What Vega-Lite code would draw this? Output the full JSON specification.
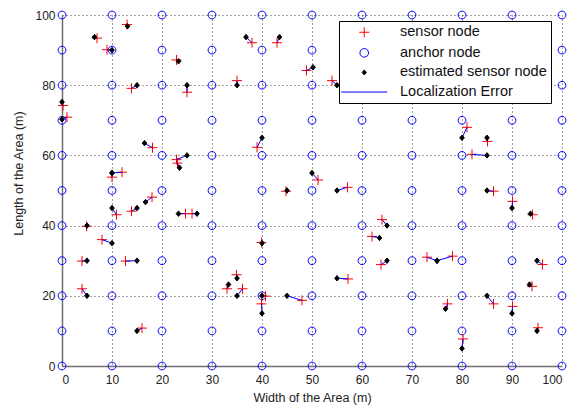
{
  "$schema": "https://vega.github.io/schema/vega-lite/v6.json",
  "width": 500,
  "height": 351,
  "autosize": {"type": "none"},
  "padding": {"left": 62, "top": 15, "right": 12, "bottom": 40},
  "background": "white",
  "config": {
    "view": {"stroke": null},
    "font": "Liberation Sans",
    "axis": {
      "grid": true,
      "gridColor": "#000000",
      "gridDash": [1, 3],
      "gridOpacity": 0.75,
      "gridWidth": 1,
      "domainColor": "#707070",
      "domainWidth": 1.5,
      "ticks": false,
      "labelFont": "Liberation Sans",
      "labelFontSize": 12,
      "labelColor": "#222222",
      "titleFont": "Liberation Sans",
      "titleFontSize": 12.5,
      "titleFontWeight": "normal",
      "titleColor": "#222222"
    },
    "legend": {
      "orient": "none",
      "legendX": 277,
      "legendY": 6,
      "symbolSize": 100,
      "symbolStrokeWidth": 1,
      "symbolOffset": 14,
      "labelFont": "Liberation Sans",
      "labelFontSize": 14.5,
      "labelColor": "#111111",
      "labelOffset": 28.5,
      "padding": 4,
      "rowPadding": 4.6,
      "strokeColor": "#000000",
      "fillColor": "#ffffff",
      "title": null
    }
  },
  "datasets": {
    "anchors": [
      {"x":0,"y":0},{"x":0,"y":10},{"x":0,"y":20},{"x":0,"y":30},{"x":0,"y":40},{"x":0,"y":50},{"x":0,"y":60},{"x":0,"y":70},{"x":0,"y":80},{"x":0,"y":90},{"x":0,"y":100},
      {"x":10,"y":0},{"x":10,"y":10},{"x":10,"y":20},{"x":10,"y":30},{"x":10,"y":40},{"x":10,"y":50},{"x":10,"y":60},{"x":10,"y":70},{"x":10,"y":80},{"x":10,"y":90},{"x":10,"y":100},
      {"x":20,"y":0},{"x":20,"y":10},{"x":20,"y":20},{"x":20,"y":30},{"x":20,"y":40},{"x":20,"y":50},{"x":20,"y":60},{"x":20,"y":70},{"x":20,"y":80},{"x":20,"y":90},{"x":20,"y":100},
      {"x":30,"y":0},{"x":30,"y":10},{"x":30,"y":20},{"x":30,"y":30},{"x":30,"y":40},{"x":30,"y":50},{"x":30,"y":60},{"x":30,"y":70},{"x":30,"y":80},{"x":30,"y":90},{"x":30,"y":100},
      {"x":40,"y":0},{"x":40,"y":10},{"x":40,"y":20},{"x":40,"y":30},{"x":40,"y":40},{"x":40,"y":50},{"x":40,"y":60},{"x":40,"y":70},{"x":40,"y":80},{"x":40,"y":90},{"x":40,"y":100},
      {"x":50,"y":0},{"x":50,"y":10},{"x":50,"y":20},{"x":50,"y":30},{"x":50,"y":40},{"x":50,"y":50},{"x":50,"y":60},{"x":50,"y":70},{"x":50,"y":80},{"x":50,"y":90},{"x":50,"y":100},
      {"x":60,"y":0},{"x":60,"y":10},{"x":60,"y":20},{"x":60,"y":30},{"x":60,"y":40},{"x":60,"y":50},{"x":60,"y":60},{"x":60,"y":70},{"x":60,"y":80},{"x":60,"y":90},{"x":60,"y":100},
      {"x":70,"y":0},{"x":70,"y":10},{"x":70,"y":20},{"x":70,"y":30},{"x":70,"y":40},{"x":70,"y":50},{"x":70,"y":60},{"x":70,"y":70},{"x":70,"y":80},{"x":70,"y":90},{"x":70,"y":100},
      {"x":80,"y":0},{"x":80,"y":10},{"x":80,"y":20},{"x":80,"y":30},{"x":80,"y":40},{"x":80,"y":50},{"x":80,"y":60},{"x":80,"y":70},{"x":80,"y":80},{"x":80,"y":90},{"x":80,"y":100},
      {"x":90,"y":0},{"x":90,"y":10},{"x":90,"y":20},{"x":90,"y":30},{"x":90,"y":40},{"x":90,"y":50},{"x":90,"y":60},{"x":90,"y":70},{"x":90,"y":80},{"x":90,"y":90},{"x":90,"y":100},
      {"x":100,"y":0},{"x":100,"y":10},{"x":100,"y":20},{"x":100,"y":30},{"x":100,"y":40},{"x":100,"y":50},{"x":100,"y":60},{"x":100,"y":70},{"x":100,"y":80},{"x":100,"y":90},{"x":100,"y":100}
    ],
    "nodes": [
      {"sx":13.0,"sy":97.3,"ex":13.1,"ey":96.8},
      {"sx":7.0,"sy":93.4,"ex":6.5,"ey":93.7},
      {"sx":9.0,"sy":90.1,"ex":10,"ey":90},
      {"sx":22.9,"sy":87.2,"ex":23.3,"ey":86.8},
      {"sx":13.9,"sy":79.1,"ex":15,"ey":80},
      {"sx":25.0,"sy":78.0,"ex":25,"ey":80},
      {"sx":0.2,"sy":74.2,"ex":0,"ey":75.2},
      {"sx":1.0,"sy":70.9,"ex":0,"ey":70.3},
      {"sx":38.0,"sy":92.1,"ex":36.8,"ey":93.7},
      {"sx":43.0,"sy":92.1,"ex":43.5,"ey":93.7},
      {"sx":48.9,"sy":84.2,"ex":50.2,"ey":85.1},
      {"sx":35.0,"sy":81.3,"ex":35,"ey":80},
      {"sx":54.0,"sy":81.3,"ex":55,"ey":80},
      {"sx":18.1,"sy":62.2,"ex":16.5,"ey":63.5},
      {"sx":22.9,"sy":58.8,"ex":25,"ey":60},
      {"sx":23.1,"sy":57.8,"ex":23.5,"ey":56.5},
      {"sx":12.0,"sy":55.2,"ex":10,"ey":55},
      {"sx":10.0,"sy":53.8,"ex":10,"ey":55},
      {"sx":18.0,"sy":48.1,"ex":16.7,"ey":46.7},
      {"sx":10.9,"sy":43.1,"ex":10,"ey":45},
      {"sx":13.9,"sy":44.1,"ex":15,"ey":45},
      {"sx":24.7,"sy":43.4,"ex":23.3,"ey":43.4},
      {"sx":26.0,"sy":43.4,"ex":27.0,"ey":43.4},
      {"sx":4.9,"sy":39.8,"ex":5,"ey":40},
      {"sx":8.0,"sy":36.0,"ex":10,"ey":35},
      {"sx":39.0,"sy":62.3,"ex":40,"ey":65},
      {"sx":51.2,"sy":53.0,"ex":50,"ey":55},
      {"sx":44.8,"sy":49.8,"ex":45,"ey":50},
      {"sx":57.1,"sy":50.9,"ex":55,"ey":50},
      {"sx":64.0,"sy":41.7,"ex":65,"ey":40},
      {"sx":62.0,"sy":36.9,"ex":63.5,"ey":36.5},
      {"sx":39.9,"sy":35.2,"ex":40,"ey":35},
      {"sx":81.0,"sy":68.0,"ex":80,"ey":65},
      {"sx":85.1,"sy":64.0,"ex":85,"ey":65},
      {"sx":82.0,"sy":60.3,"ex":85,"ey":60},
      {"sx":86.3,"sy":49.8,"ex":85,"ey":50},
      {"sx":90.1,"sy":46.9,"ex":90,"ey":45},
      {"sx":94.1,"sy":43.1,"ex":93.7,"ey":43.4},
      {"sx":4.0,"sy":29.9,"ex":5,"ey":30},
      {"sx":12.7,"sy":29.9,"ex":15,"ey":30},
      {"sx":4.0,"sy":22.0,"ex":5,"ey":20},
      {"sx":16.0,"sy":10.8,"ex":15,"ey":10},
      {"sx":33.0,"sy":22.0,"ex":33.3,"ey":23.2},
      {"sx":34.9,"sy":26.0,"ex":35,"ey":25},
      {"sx":36.1,"sy":22.0,"ex":35,"ey":20},
      {"sx":40.7,"sy":19.9,"ex":40,"ey":20},
      {"sx":39.9,"sy":17.7,"ex":40,"ey":15},
      {"sx":48.0,"sy":18.7,"ex":45,"ey":20},
      {"sx":57.2,"sy":24.8,"ex":55,"ey":25},
      {"sx":63.8,"sy":28.9,"ex":65,"ey":30},
      {"sx":73.0,"sy":31.0,"ex":75,"ey":30},
      {"sx":78.1,"sy":31.3,"ex":75,"ey":30},
      {"sx":96.1,"sy":28.9,"ex":95,"ey":30},
      {"sx":94.0,"sy":22.7,"ex":93.5,"ey":23.2},
      {"sx":86.3,"sy":17.7,"ex":85,"ey":20},
      {"sx":77.1,"sy":17.7,"ex":76.7,"ey":16.3},
      {"sx":90.1,"sy":17.0,"ex":90,"ey":15},
      {"sx":95.2,"sy":10.9,"ex":95,"ey":10},
      {"sx":80.2,"sy":7.7,"ex":80,"ey":5}
    ]
  },
  "layer": [
    {
      "data": {"name": "anchors"},
      "mark": {"type": "point", "size": 82, "strokeWidth": 1, "opacity": 1},
      "encoding": {
        "x": {"field": "x", "type": "quantitative", "scale": {"domain": [0, 100], "nice": false}, "axis": {"values": [0,10,20,30,40,50,60,70,80,90,100], "title": "Width of the Area (m)", "labelPadding": 8, "titleY": 35.5, "titleBaseline": "alphabetic"}},
        "y": {"field": "y", "type": "quantitative", "scale": {"domain": [0, 100], "nice": false}, "axis": {"values": [0,10,20,30,40,50,60,70,80,90,100], "title": "Length of the Area (m)", "labelPadding": 7, "titleX": -40, "titleY": 158, "titleBaseline": "alphabetic", "titleAngle": -90}},
        "stroke": {"datum": "anchor node", "type": "nominal", "title": null, "scale": {"domain": ["sensor node", "anchor node", "estimated sensor node", "Localization Error"], "range": ["#ff0000", "#0000ff", "#000000", "#0000ff"]}, "legend": {"encode": {"symbols": {"update": {"stroke": {"scale": "stroke", "field": "value"}, "fill": {"scale": "fill", "field": "value"}, "shape": {"scale": "shape", "field": "value"}}}}}},
        "fill": {"datum": "anchor node", "type": "nominal", "title": null, "scale": {"domain": ["sensor node", "anchor node", "estimated sensor node", "Localization Error"], "range": ["transparent", "transparent", "#000000", "transparent"]}},
        "shape": {"datum": "anchor node", "type": "nominal", "title": null, "scale": {"domain": ["sensor node", "anchor node", "estimated sensor node", "Localization Error"], "range": ["M-1,0L1,0M0,-1L0,1", "M-0.86,0A0.86,0.86,0,1,0,0.86,0A0.86,0.86,0,1,0,-0.86,0Z", "M0,-0.5L0.42,0L0,0.5L-0.42,0Z", "M-4.6,0L4.6,0"]}}
      }
    },
    {
      "data": {"name": "nodes"},
      "mark": {"type": "point", "size": 100, "strokeWidth": 1, "opacity": 1},
      "encoding": {
        "x": {"field": "sx", "type": "quantitative"},
        "y": {"field": "sy", "type": "quantitative"},
        "stroke": {"datum": "sensor node", "type": "nominal", "title": null},
        "fill": {"datum": "sensor node", "type": "nominal", "title": null},
        "shape": {"datum": "sensor node", "type": "nominal", "title": null}
      }
    },
    {
      "data": {"name": "nodes"},
      "mark": {"type": "rule", "strokeWidth": 1},
      "encoding": {
        "x": {"field": "sx", "type": "quantitative"},
        "y": {"field": "sy", "type": "quantitative"},
        "x2": {"field": "ex"},
        "y2": {"field": "ey"},
        "stroke": {"datum": "Localization Error", "type": "nominal", "title": null}
      }
    },
    {
      "data": {"name": "nodes"},
      "mark": {"type": "point", "size": 121, "strokeWidth": 1, "opacity": 1},
      "encoding": {
        "x": {"field": "ex", "type": "quantitative"},
        "y": {"field": "ey", "type": "quantitative"},
        "stroke": {"datum": "estimated sensor node", "type": "nominal", "title": null},
        "fill": {"datum": "estimated sensor node", "type": "nominal", "title": null},
        "shape": {"datum": "estimated sensor node", "type": "nominal", "title": null}
      }
    }
  ]
}
